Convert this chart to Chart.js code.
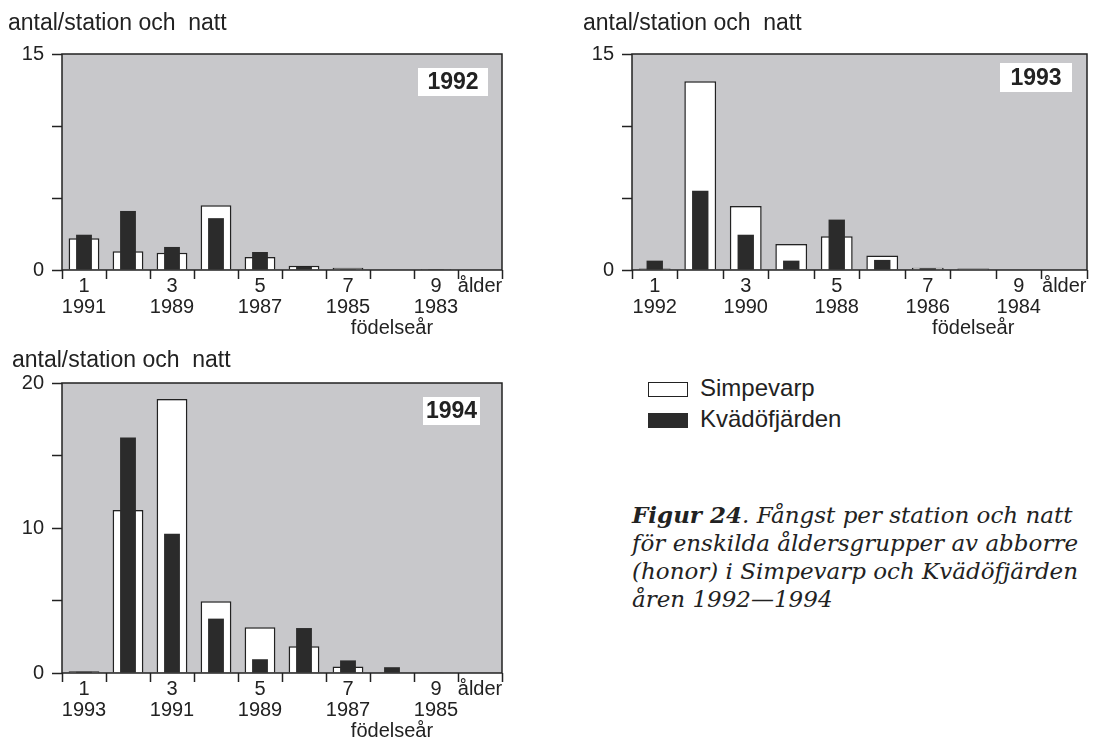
<!DOCTYPE html>
<html>
  <head>
    <meta charset="utf-8">
    <script src="https://cdn.jsdelivr.net/npm/chart.js@4.4.1/dist/chart.umd.min.js"></script>
    <style>
      body {
        margin: 0;
        background: #fff;
        width: 1112px;
        height: 753px;
        position: relative;
        overflow: hidden;
        font-family: "Liberation Sans", Arial, sans-serif;
        color: #222;
      }
      canvas {
        position: absolute;
      }
      .legend {
        position: absolute;
        left: 648px;
        top: 372px;
        font-size: 24px;
        line-height: 31px;
      }
      .legend span.box {
        display: inline-block;
        width: 40px;
        height: 15px;
        margin-right: 12px;
        vertical-align: -1px;
        box-sizing: border-box;
      }
      .caption {
        position: absolute;
        left: 632px;
        top: 501px;
        font-family: "DejaVu Serif", serif;
        font-style: italic;
        font-size: 23px;
        line-height: 28px;
        color: #222;
        white-space: nowrap;
      }
    </style>
  </head>
  <body>
    <canvas id="chart1992" width="560" height="345" style="left:0;top:0"></canvas>
    <canvas id="chart1993" width="542" height="350" style="left:570px;top:0"></canvas>
    <canvas id="chart1994" width="560" height="403" style="left:0;top:350px"></canvas>

    <div class="legend">
      <div><span class="box" style="background:#fff;border:1.5px solid #222"></span>Simpevarp</div>
      <div><span class="box" style="background:#2b2b2b"></span>Kvädöfjärden</div>
    </div>

    <div class="caption">
      <b>Figur 24</b>. Fångst per station och natt<br>
      för enskilda åldersgrupper av abborre<br>
      (honor) i Simpevarp och Kvädöfjärden<br>
      åren 1992—1994
    </div>

    <script>
      // age classes (x axis, first row) and birth years (second row)
      const ages = ['1', '', '3', '', '5', '', '7', '', '9', 'ålder'];
      const years1992 = ['1991', '', '1989', '', '1987', '', '1985', '', '1983', ''];
      const years1993 = ['1992', '', '1990', '', '1988', '', '1986', '', '1984', ''];
      const years1994 = ['1993', '', '1991', '', '1989', '', '1987', '', '1985', ''];

      // antal/station och natt
      const simp1992 = [2.2, 1.3, 1.2, 4.5, 0.9, 0.3, 0.15, 0, 0.07, 0];
      const kvad1992 = [2.45, 4.1, 1.6, 3.6, 1.25, 0.22, 0.05, 0, 0.05, 0];
      const simp1993 = [0.1, 13.1, 4.45, 1.8, 2.35, 1.0, 0.16, 0.1, 0, 0];
      const kvad1993 = [0.65, 5.5, 2.45, 0.65, 3.5, 0.7, 0.12, 0, 0, 0];
      const simp1994 = [0.12, 11.25, 18.9, 4.95, 3.15, 1.85, 0.45, 0, 0.05, 0];
      const kvad1994 = [0.08, 16.25, 9.6, 3.75, 0.95, 3.1, 0.87, 0.4, 0.03, 0];

      // y axis: ticks that get a label (last one is the max)
      const yLabels1992 = [0, 15];
      const yLabels1993 = [0, 15];
      const yLabels1994 = [0, 10, 20];

      const yTitle = 'antal/station och  natt';
      const xFoot = 'födelseår';
      const font = '"Liberation Sans", Arial, sans-serif';

      const panelPlugin = {
        id: 'panel',
        beforeDraw(chart, args, opts) {
          const a = chart.chartArea;
          const ctx = chart.ctx;
          ctx.save();
          ctx.fillStyle = '#c8c8cb';
          ctx.fillRect(a.left, a.top, a.right - a.left, a.bottom - a.top);
          ctx.restore();
        },
        afterDraw(chart, args, opts) {
          const a = chart.chartArea;
          const ctx = chart.ctx;
          ctx.save();
          ctx.strokeStyle = '#222';
          ctx.lineWidth = 1.5;
          ctx.strokeRect(a.left, a.top, a.right - a.left, a.bottom - a.top);

          // year box
          const b = opts.box;
          ctx.fillStyle = '#fff';
          ctx.fillRect(a.right - b.right - b.w, a.top + b.top, b.w, b.h);
          ctx.fillStyle = '#222';
          ctx.font = 'bold 23px ' + font;
          ctx.textAlign = 'center';
          ctx.textBaseline = 'middle';
          ctx.fillText(opts.year, a.right - b.right - b.w / 2, a.top + b.top + b.h / 2 + 1);

          // y title
          ctx.font = '23px ' + font;
          ctx.textAlign = 'left';
          ctx.textBaseline = 'alphabetic';
          ctx.fillText(yTitle, opts.titleX, opts.titleY);
          ctx.restore();
        }
      };

      function makeChart(id, years, simp, kvad, yLabels, year, layout) {
        const labels = ages.map((a, i) => [a, years[i], i === 7 ? xFoot : '']);
        const yMax = yLabels[yLabels.length - 1];

        return new Chart(document.getElementById(id), {
          type: 'bar',
          data: {
            labels: labels,
            datasets: [{
              label: 'Simpevarp',
              data: simp,
              backgroundColor: '#ffffff',
              borderColor: '#222',
              borderWidth: 1.5,
              borderSkipped: 'bottom',
              grouped: false,
              categoryPercentage: 1,
              barPercentage: 0.7,
              order: 2
            }, {
              label: 'Kvädöfjärden',
              data: kvad,
              backgroundColor: '#2b2b2b',
              borderWidth: 0,
              grouped: false,
              categoryPercentage: 1,
              barPercentage: 0.36,
              order: 1
            }]
          },
          options: {
            responsive: false,
            animation: false,
            events: [],
            layout: {
              padding: {top: layout.top, right: layout.right, left: 0, bottom: 0}
            },
            plugins: {
              legend: {display: false},
              tooltip: {enabled: false},
              panel: {year: year, box: layout.box, titleX: layout.titleX, titleY: layout.titleY}
            },
            scales: {
              x: {
                offset: true,
                afterFit: s => { s.height = layout.xHeight; },
                grid: {
                  offset: true,
                  drawOnChartArea: false,
                  drawTicks: true,
                  tickLength: 9,
                  tickWidth: 1.5,
                  tickColor: '#222'
                },
                border: {display: false},
                ticks: {
                  autoSkip: false,
                  maxRotation: 0,
                  padding: -3,
                  color: '#222',
                  font: {family: font, size: 20, lineHeight: 1.05}
                }
              },
              y: {
                min: 0,
                max: yMax,
                afterFit: s => { s.width = 62; },
                grid: {
                  drawOnChartArea: false,
                  drawTicks: true,
                  tickLength: 10,
                  tickWidth: 1.5,
                  tickColor: '#222'
                },
                border: {display: false},
                ticks: {
                  stepSize: 5,
                  padding: 8,
                  color: '#222',
                  font: {family: font, size: 20},
                  callback: v => yLabels.includes(v) ? v : ''
                }
              }
            }
          },
          plugins: [panelPlugin]
        });
      }

      makeChart('chart1992', years1992, simp1992, kvad1992, yLabels1992, '1992', {
        top: 54, right: 58, xHeight: 75,
        box: {right: 14, top: 14, w: 70, h: 28}, titleX: 8, titleY: 30
      });
      makeChart('chart1993', years1993, simp1993, kvad1993, yLabels1993, '1993', {
        top: 54, right: 25, xHeight: 80,
        box: {right: 15, top: 9, w: 72, h: 29}, titleX: 13, titleY: 30
      });
      makeChart('chart1994', years1994, simp1994, kvad1994, yLabels1994, '1994', {
        top: 33, right: 58, xHeight: 80,
        box: {right: 22, top: 14, w: 57, h: 28}, titleX: 12, titleY: 17
      });
    </script>
  </body>
</html>
